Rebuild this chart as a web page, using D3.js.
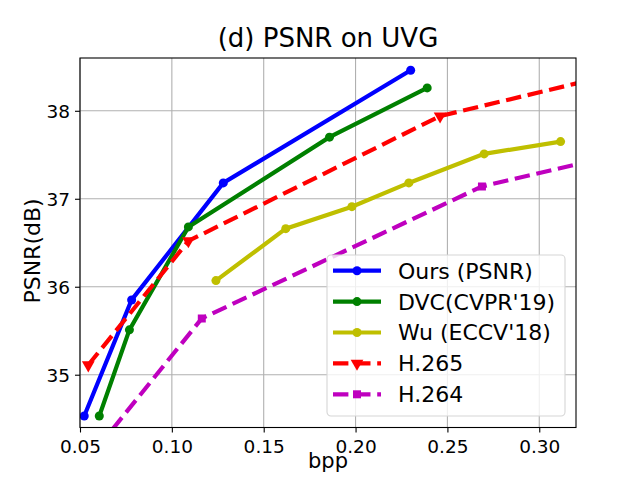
<!DOCTYPE html>
<html>
<head>
<meta charset="utf-8">
<script src="https://cdn.jsdelivr.net/npm/d3@7"></script>
<style>
  body { margin: 0; background: #fff; }
  text { font-family: "DejaVu Sans", sans-serif; }
</style>
</head>
<body>
<div id="wrapper"></div>
<script>
// values
const seriesNames = ["Ours (PSNR)", "DVC(CVPR'19)", "Wu (ECCV'18)", "H.265", "H.264"]
const oursBpp = [0.0523, 0.0781, 0.128, 0.230]
const oursPsnr = [34.53, 35.85, 37.18, 38.46]
const dvcBpp = [0.0605, 0.0769, 0.109, 0.1858, 0.239]
const dvcPsnr = [34.53, 35.51, 36.68, 37.70, 38.26]
const wuBpp = [0.124, 0.162, 0.198, 0.229, 0.270, 0.3116]
const wuPsnr = [36.07, 36.66, 36.91, 37.18, 37.51, 37.65]
const h265Bpp = [0.0545, 0.109, 0.246, 0.42]
const h265Psnr = [35.11, 36.52, 37.94, 38.81]
const h264Bpp = [0.060, 0.1163, 0.2688, 0.45]
const h264Psnr = [34.18, 35.64, 37.14, 38.02]
const xTicks = [0.05, 0.10, 0.15, 0.20, 0.25, 0.30]
const yTicks = [35, 36, 37, 38]

function drawChart() {
  const zip = (xs, ys) => xs.map((x, i) => ({ bpp: x, psnr: ys[i] }))
  const series = [
    { name: seriesNames[0], data: zip(oursBpp, oursPsnr), color: "#0000ff", dash: null, marker: "circle" },
    { name: seriesNames[1], data: zip(dvcBpp, dvcPsnr), color: "#008000", dash: null, marker: "circle" },
    { name: seriesNames[2], data: zip(wuBpp, wuPsnr), color: "#bfbf00", dash: null, marker: "circle" },
    { name: seriesNames[3], data: zip(h265Bpp, h265Psnr), color: "#ff0000", dash: "15.4,6.7", marker: "triangle" },
    { name: seriesNames[4], data: zip(h264Bpp, h264Psnr), color: "#bf00bf", dash: "15.4,6.7", marker: "square" },
  ]
  const xAccessor = d => d.bpp
  const yAccessor = d => d.psnr

  let dimensions = {
    width: 640,
    height: 480,
    margins: { top: 58, right: 64, bottom: 52.5, left: 80 },
  }
  dimensions.boundedWidth = dimensions.width - dimensions.margins.left - dimensions.margins.right
  dimensions.boundedHeight = dimensions.height - dimensions.margins.top - dimensions.margins.bottom

  const wrapper = d3.select("#wrapper")
    .append("svg")
      .attr("width", dimensions.width)
      .attr("height", dimensions.height)

  const bounds = wrapper.append("g")
    .attr("transform", `translate(${dimensions.margins.left},${dimensions.margins.top})`)

  const xScale = d3.scaleLinear()
    .domain([0.05, 0.32])
    .range([0, dimensions.boundedWidth])
  const yScale = d3.scaleLinear()
    .domain([34.4, 38.6])
    .range([dimensions.boundedHeight, 0])

  // grid
  bounds.append("g").selectAll("line").data(xTicks).join("line")
    .attr("x1", d => xScale(d)).attr("x2", d => xScale(d))
    .attr("y1", 0).attr("y2", dimensions.boundedHeight)
    .attr("stroke", "#b0b0b0").attr("stroke-width", 1.1)
  bounds.append("g").selectAll("line").data(yTicks).join("line")
    .attr("y1", d => yScale(d)).attr("y2", d => yScale(d))
    .attr("x1", 0).attr("x2", dimensions.boundedWidth)
    .attr("stroke", "#b0b0b0").attr("stroke-width", 1.1)

  bounds.append("clipPath").attr("id", "clip")
    .append("rect")
      .attr("width", dimensions.boundedWidth)
      .attr("height", dimensions.boundedHeight)

  const lineGenerator = d3.line()
    .x(d => xScale(xAccessor(d)))
    .y(d => yScale(yAccessor(d)))

  const symbolFor = m => m == "triangle"
    ? d3.symbol().type(d3.symbolTriangle).size(70)
    : m == "square" ? d3.symbol().type(d3.symbolSquare).size(64)
    : d3.symbol().type(d3.symbolCircle).size(64)

  const plot = bounds.append("g").attr("clip-path", "url(#clip)")
  series.forEach(s => {
    plot.append("path")
      .attr("d", lineGenerator(s.data))
      .attr("fill", "none")
      .attr("stroke", s.color)
      .attr("stroke-width", 4.2)
      .attr("stroke-dasharray", s.dash)
    plot.append("g").selectAll("path").data(s.data).join("path")
      .attr("d", symbolFor(s.marker))
      .attr("transform", d => `translate(${xScale(xAccessor(d))},${yScale(yAccessor(d))})${s.marker == "triangle" ? " rotate(180)" : ""}`)
      .attr("fill", s.color)
  })

  // axes
  const xAxisGenerator = d3.axisBottom(xScale)
    .tickValues(xTicks)
    .tickFormat(d3.format(".2f"))
    .tickSize(5).tickPadding(5)
  const xAxis = bounds.append("g")
    .attr("transform", `translate(0,${dimensions.boundedHeight})`)
    .call(xAxisGenerator)
  const yAxisGenerator = d3.axisLeft(yScale)
    .tickValues(yTicks)
    .tickFormat(d3.format("d"))
    .tickSize(5).tickPadding(5)
  const yAxis = bounds.append("g").call(yAxisGenerator)
  ;[xAxis, yAxis].forEach(a => {
    a.attr("font-size", null).attr("font-family", null)
    a.select(".domain").remove()
    a.selectAll("line").attr("stroke", "#000").attr("stroke-width", 1.1)
    a.selectAll("text").attr("fill", "#000")
      .style("font-size", "18.5px")
      .style("font-family", "'DejaVu Sans', sans-serif")
  })
  xAxis.selectAll("text").attr("dy", "0.85em")
  yAxis.selectAll("text").attr("dy", "0.36em")

  bounds.append("rect")
    .attr("width", dimensions.boundedWidth)
    .attr("height", dimensions.boundedHeight)
    .attr("fill", "none")
    .attr("stroke", "#000")
    .attr("stroke-width", 1.1)

  // labels
  wrapper.append("text")
    .attr("x", dimensions.margins.left + dimensions.boundedWidth / 2)
    .attr("y", 47)
    .attr("text-anchor", "middle")
    .attr("font-size", 26)
    .text("(d) PSNR on UVG")
  wrapper.append("text")
    .attr("x", dimensions.margins.left + dimensions.boundedWidth / 2)
    .attr("y", 468)
    .attr("text-anchor", "middle")
    .attr("font-size", 21)
    .text("bpp")
  wrapper.append("text")
    .attr("transform", "translate(40,251) rotate(-90)")
    .attr("text-anchor", "middle")
    .attr("font-size", 22)
    .text("PSNR(dB)")

  // legend
  const legend = wrapper.append("g").attr("transform", "translate(327,255)")
  legend.append("rect")
    .attr("width", 238).attr("height", 161)
    .attr("rx", 4)
    .attr("fill", "#fff").attr("fill-opacity", 0.8)
    .attr("stroke", "#d6d6d6").attr("stroke-width", 1.1)
  const rows = legend.selectAll("g.row").data(series).join("g")
    .attr("class", "row")
    .attr("transform", (d, i) => `translate(0,${15.7 + i * 30.9})`)
  rows.append("line")
    .attr("x1", 6).attr("x2", 54)
    .attr("stroke", d => d.color)
    .attr("stroke-width", 4.2)
    .attr("stroke-dasharray", d => d.dash)
  rows.append("path")
    .attr("d", d => symbolFor(d.marker)())
    .attr("transform", d => `translate(30,0)${d.marker == "triangle" ? " rotate(180)" : ""}`)
    .attr("fill", d => d.color)
  rows.append("text")
    .attr("x", 71)
    .attr("dy", "0.36em")
    .attr("font-size", 22)
    .text(d => d.name)
}

drawChart()
</script>
</body>
</html>
